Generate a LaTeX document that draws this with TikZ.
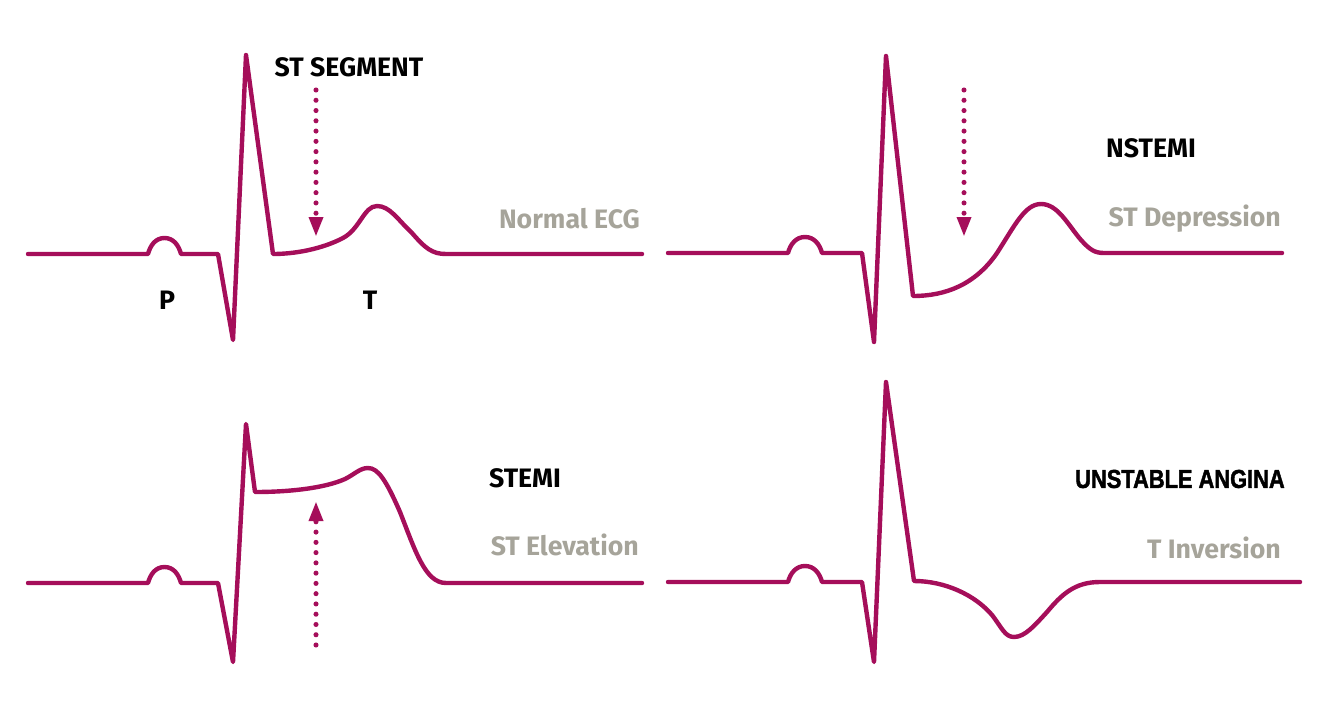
\documentclass[tikz,border=0pt]{standalone}
\usepackage{fontspec}
\setmainfont{Fira Sans}
\newfontfamily\narrowfont{Liberation Sans}[FakeStretch=0.84,BoldFeatures={FakeBold=1.6}]
\usetikzlibrary{arrows.meta}
\definecolor{ecg}{RGB}{165,14,90}
\definecolor{lbl}{RGB}{166,164,154}
\tikzset{
  wave/.style={draw=ecg, line width=3.3pt, line join=round, line cap=round},
  stptr/.style={draw=ecg, line width=3.8pt, line cap=round, dash pattern=on 0pt off 7.7pt,
     -{Triangle[width=10pt,length=15pt,fill=ecg]}},
  title/.style={font=\bfseries\fontsize{20}{22}\selectfont, text=black, inner sep=0pt},
  sub/.style={font=\bfseries\fontsize{20}{22}\selectfont, text=lbl, inner sep=0pt, anchor=east},
  wlabel/.style={font=\bfseries\fontsize{20}{22}\selectfont, text=black, inner sep=0pt}
}
\begin{document}
\begin{tikzpicture}[x=0.75pt,y=-0.75pt]
\useasboundingbox (0,0) rectangle (1334,703);
% ---------- top left: normal
\draw[wave] (28,254) -- (148,254) to[out=75,in=180] (164.5,238) to[out=0,in=105] (181,254)
  -- (218,254) -- (233,340) -- (246,55) -- (273,254)
  .. controls (295,254) and (322,249) .. (343,238)
  .. controls (360,229) and (364,206) .. (377,206)
  .. controls (390,206) and (398,220) .. (412,233)
  .. controls (425,248) and (432,254) .. (446,254) -- (642,254);
\coordinate (a1s) at (316,90);
\coordinate (a1e) at (316,237);
\draw[stptr] (a1s) -- (a1e);
\node[title] (t1) at (349,67) {ST SEGMENT};
\node[sub] (s1) at (640,219) {Normal ECG};
\node[wlabel] (p) at (167,300) {P};
\node[wlabel] (t) at (370,300) {T};
% ---------- top right: NSTEMI
\draw[wave] (668,253) -- (788,253) to[out=75,in=180] (805,237) to[out=0,in=105] (822,253)
  -- (862,253) -- (874,342) -- (886,56) -- (913,296)
  .. controls (945,296) and (975,285) .. (997,253)
  .. controls (1015,225) and (1025,204) .. (1041,204)
  .. controls (1058,204) and (1068,225) .. (1081,240)
  .. controls (1090,250) and (1095,253) .. (1104,253) -- (1282,253);
\coordinate (a2s) at (964,90);
\coordinate (a2e) at (964,237);
\draw[stptr] (a2s) -- (a2e);
\node[title] (t2) at (1151,148) {NSTEMI};
\node[sub] (s2) at (1281,219) {ST Depression};
% ---------- bottom left: STEMI
\draw[wave] (28,583) -- (148,583) to[out=75,in=180] (164.5,567) to[out=0,in=105] (181,583)
  -- (218,583) -- (233,662) -- (246,424) -- (255,492)
  .. controls (290,492) and (325,488) .. (345,479)
  .. controls (355,474) and (360,468) .. (368,468)
  .. controls (378,468) and (386,480) .. (400,512)
  .. controls (415,550) and (425,583) .. (446,583) -- (642,583);
\coordinate (a3s) at (316,645);
\coordinate (a3e) at (316,501);
\draw[stptr] (a3s) -- (a3e);
\node[title] (t3) at (525,478) {STEMI};
\node[sub] (s3) at (639,545) {ST Elevation};
% ---------- bottom right: unstable angina
\draw[wave] (668,582) -- (788,582) to[out=75,in=180] (805,566) to[out=0,in=105] (822,582)
  -- (862,582) -- (874,662) -- (886,382) -- (914,581)
  .. controls (945,581) and (975,595) .. (992,615)
  .. controls (1002,628) and (1005,637) .. (1014,637)
  .. controls (1025,637) and (1035,625) .. (1047,612)
  .. controls (1062,594) and (1075,582) .. (1100,582) -- (1300,582);
\node[font=\narrowfont\bfseries\fontsize{19.5}{22}\selectfont, inner sep=0pt] (t4) at (1180,479) {UNSTABLE ANGINA};
\node[sub] (s4) at (1281,548) {T Inversion};
\end{tikzpicture}
\end{document}
